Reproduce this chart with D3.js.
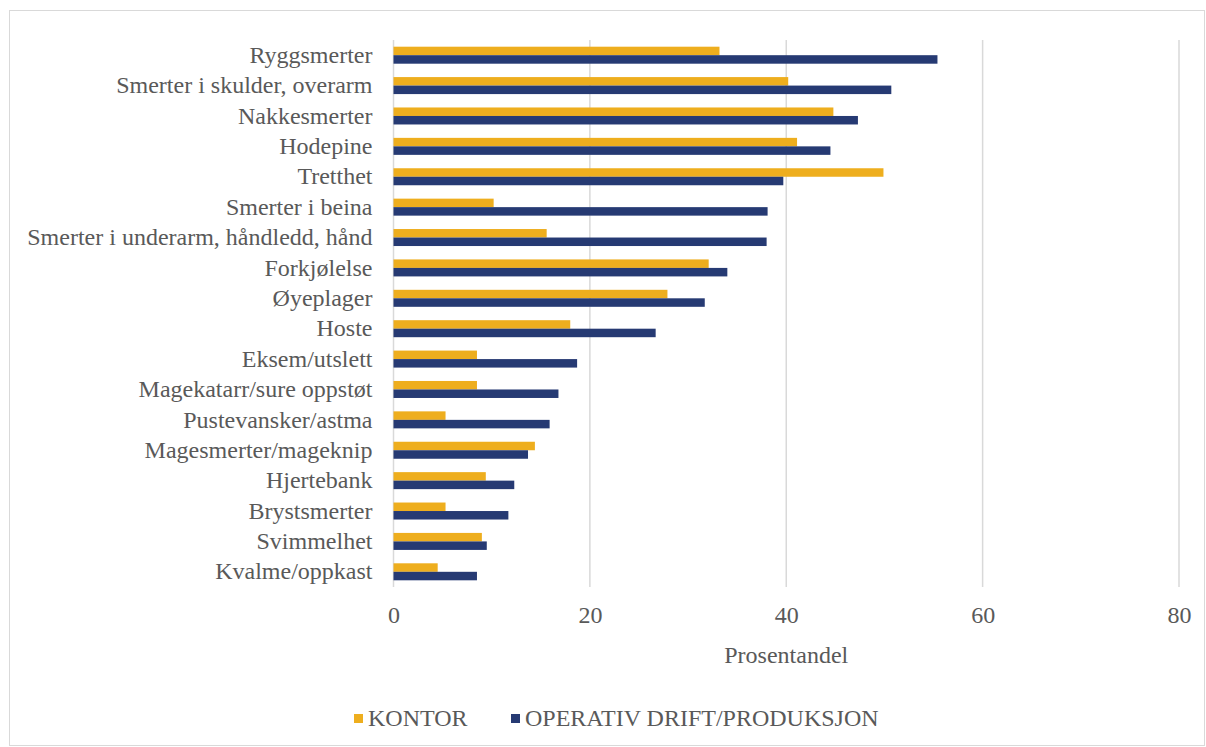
<!DOCTYPE html>
<html><head><meta charset="utf-8">
<script src="https://cdn.jsdelivr.net/npm/d3@7"></script>
<style>html,body{margin:0;padding:0;background:#fff;}svg{display:block;}</style>
</head><body>
<script>
const categories = ["Ryggsmerter","Smerter i skulder, overarm","Nakkesmerter","Hodepine","Tretthet","Smerter i beina","Smerter i underarm, håndledd, hånd","Forkjølelse","Øyeplager","Hoste","Eksem/utslett","Magekatarr/sure oppstøt","Pustevansker/astma","Magesmerter/mageknip","Hjertebank","Brystsmerter","Svimmelhet","Kvalme/oppkast"];
const kontor = [33.2,40.2,44.8,41.1,49.9,10.2,15.6,32.1,27.9,18.0,8.5,8.5,5.3,14.4,9.4,5.3,9.0,4.5];
const operativ = [55.4,50.7,47.3,44.5,39.7,38.1,38.0,34.0,31.7,26.7,18.7,16.8,15.9,13.7,12.3,11.7,9.5,8.5];
const seriesNames = ["KONTOR","OPERATIV DRIFT/PRODUKSJON"];
const xTicks = [0,20,40,60,80];
const axisTitle = "Prosentandel";

(function(){
const W=1206,H=747;
const colors=["#EEAE1E","#263A73"];
const font="'Liberation Serif','Times New Roman',serif";
const textColor="#595959";
const fs=24;
const svg=d3.select("body").append("svg").attr("width",W).attr("height",H);
svg.append("rect").attr("x",9.5).attr("y",10.5).attr("width",1195).attr("height",735).attr("fill","#fff").attr("stroke","#d9d9d9").attr("stroke-width",1);

const pL=393.5,pR=1179,pT=40,pB=587;
const x=d3.scaleLinear().domain([0,80]).range([pL,pR]);
const y=d3.scaleBand().domain(categories).range([pT,pB]);
const inner=d3.scaleBand().domain([0,1]).range([0,17]);
const g=svg.append("g");
g.selectAll("line.grid").data(xTicks).join("line").attr("class","grid")
 .attr("x1",d=>x(d)).attr("x2",d=>x(d)).attr("y1",pT).attr("y2",pB)
 .attr("stroke","#d9d9d9").attr("stroke-width",1.5);
const rows=g.selectAll("g.row").data(categories).join("g").attr("class","row")
 .attr("transform",d=>`translate(0,${y(d)+y.bandwidth()/2-8.5})`);
rows.each(function(c,i){
  const vals=[kontor[i],operativ[i]];
  d3.select(this).selectAll("rect").data(vals).join("rect")
   .attr("x",x(0)).attr("y",(d,j)=>inner(j)).attr("height",inner.bandwidth())
   .attr("width",d=>x(d)-x(0)).attr("fill",(d,j)=>colors[j]);
});
const yAxis=d3.axisLeft(y).tickSize(0).tickPadding(21);
const ya=svg.append("g").attr("transform",`translate(${pL},0)`).call(yAxis);
ya.select(".domain").remove();
ya.attr("font-family",font).attr("font-size",fs);
ya.selectAll("text").attr("font-family",font).attr("font-size",fs).attr("fill",textColor);
const xAxis=d3.axisBottom(x).tickValues(xTicks).tickSize(0).tickPadding(0);
const xa=svg.append("g").attr("transform",`translate(0,615)`).call(xAxis);
xa.select(".domain").remove();
xa.attr("font-family",font).attr("font-size",fs);
xa.selectAll("text").attr("font-family",font).attr("font-size",fs).attr("fill",textColor).attr("dy","0.32em");
svg.append("text").attr("x",(pL+pR)/2).attr("y",655).attr("dy","0.32em").attr("text-anchor","middle")
 .attr("font-family",font).attr("font-size",fs).attr("fill",textColor).text(axisTitle);
const legX=[354,511];
const leg=svg.selectAll("g.leg").data(seriesNames).join("g").attr("class","leg")
 .attr("transform",(d,i)=>`translate(${legX[i]},718)`);
leg.append("rect").attr("x",0).attr("y",-4).attr("width",9).attr("height",9).attr("fill",(d,i)=>colors[i]);
leg.append("text").attr("x",14).attr("y",0).attr("dy","0.32em").attr("font-family",font).attr("font-size",fs).attr("fill",textColor).text(d=>d);
})();
</script>
</body></html>
